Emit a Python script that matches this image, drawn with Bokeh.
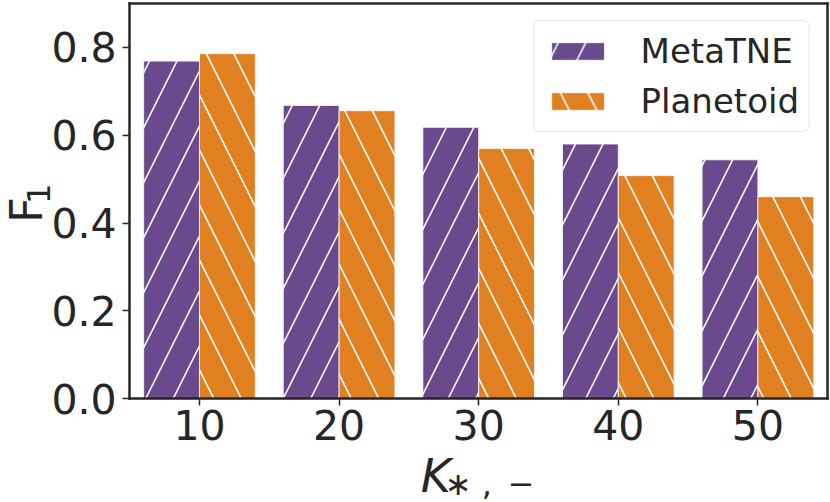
from math import pi
from bokeh.plotting import figure
from bokeh.models import Range1d, FixedTicker, Label, Legend, LegendItem, LinearAxis
from bokeh.embed import file_html
from bokeh.resources import INLINE

# ---- data ----
k_labels = ["10", "20", "30", "40", "50"]
metatne = [0.769, 0.668, 0.618, 0.580, 0.544]
planetoid = [0.786, 0.656, 0.570, 0.508, 0.460]
y_ticks = [0.0, 0.2, 0.4, 0.6, 0.8]
y_tick_labels = ["0.0", "0.2", "0.4", "0.6", "0.8"]
x_lim = (-0.5, 4.5)
y_lim = (0.0, 0.9)

PURPLE = "#6a4a8c"
ORANGE = "#e08020"
INK = "#262626"
FONT = "DejaVu Sans"

idx = list(range(len(k_labels)))
x_meta = [i - 0.2 for i in idx]
x_plan = [i + 0.2 for i in idx]

# the frame covers the whole canvas; the visible "plot box" is drawn by axes
p = figure(width=830, height=502, output_backend="svg", toolbar_location=None,
           x_range=Range1d(-1.4255, 4.5201), y_range=Range1d(-0.2370, 0.9071),
           min_border=0)
p.xgrid.visible = False
p.ygrid.visible = False
p.outline_line_color = None
p.background_fill_color = "white"
p.border_fill_color = "white"

r1 = p.vbar(x=x_meta, top=metatne, width=0.4, bottom=0,
            fill_color=PURPLE, line_color="white", line_width=0.8,
            hatch_pattern="/", hatch_color="white", hatch_weight=1.6, hatch_scale=55)
r2 = p.vbar(x=x_plan, top=planetoid, width=0.4, bottom=0,
            fill_color=ORANGE, line_color="white", line_width=0.8,
            hatch_pattern="\\", hatch_color="white", hatch_weight=1.6, hatch_scale=55)

xa = p.xaxis[0]
ya = p.yaxis[0]
xa.fixed_location = y_lim[0]
xa.bounds = x_lim
ya.fixed_location = x_lim[0]
ya.bounds = y_lim

top_ax = LinearAxis(fixed_location=y_lim[1], bounds=x_lim, ticker=FixedTicker(ticks=[]))
right_ax = LinearAxis(fixed_location=x_lim[1], bounds=y_lim, ticker=FixedTicker(ticks=[]))
p.add_layout(top_ax, "above")
p.add_layout(right_ax, "right")

for ax in (xa, ya, top_ax, right_ax):
    ax.axis_line_color = INK
    ax.axis_line_width = 2.5
    ax.axis_line_cap = "square"
    ax.major_tick_line_color = INK
    ax.major_tick_line_width = 1.5
    ax.major_tick_out = 7
    ax.major_tick_in = 0
    ax.minor_tick_line_color = None
    ax.major_label_text_font = FONT
    ax.major_label_text_font_size = "41px"
    ax.major_label_text_color = INK
for ax in (top_ax, right_ax):
    ax.major_tick_line_color = None

xa.ticker = FixedTicker(ticks=idx)
xa.major_label_overrides = {i: lab for i, lab in zip(idx, k_labels)}
xa.major_label_standoff = 4
ya.ticker = FixedTicker(ticks=y_ticks)
ya.major_label_overrides = {t: lab for t, lab in zip(y_ticks, y_tick_labels)}
ya.major_label_standoff = 6

# y label F_1 (rotated)
p.add_layout(Label(x=x_lim[0], y=0.4, x_offset=-103, y_offset=0, text="F", angle=pi/2,
                   text_font=FONT, text_font_size="45px", text_color=INK,
                   text_align="left", text_baseline="alphabetic"))
p.add_layout(Label(x=x_lim[0], y=0.4, x_offset=-91, y_offset=19, text="1", angle=pi/2,
                   text_font=FONT, text_font_size="32px", text_color=INK,
                   text_align="left", text_baseline="alphabetic"))
# x label K_{*,-}
p.add_layout(Label(x=2, y=0, x_offset=-58, y_offset=-77, text="K",
                   text_font=FONT, text_font_size="46px", text_font_style="italic",
                   text_color=INK, text_align="left", text_baseline="alphabetic"))
p.add_layout(Label(x=2, y=0, x_offset=-34, y_offset=-85, text="\u2217 ,\u2002\u2212",
                   text_font=FONT, text_font_size="32px",
                   text_color=INK, text_align="left", text_baseline="alphabetic"))

legend = Legend(items=[LegendItem(label="MetaTNE", renderers=[r1]),
                       LegendItem(label="Planetoid", renderers=[r2])],
                location="top_right", margin=20, padding=10, spacing=10,
                glyph_width=66, glyph_height=22, label_standoff=30,
                label_text_font=FONT, label_text_font_size="34px", label_text_color=INK,
                border_line_color="#d0d0d0", border_line_width=1.2,
                background_fill_color="white", background_fill_alpha=0.8)
try:
    legend.border_radius = 6
except Exception:
    pass
p.add_layout(legend)

open("out.html", "w").write(file_html(p, INLINE))
